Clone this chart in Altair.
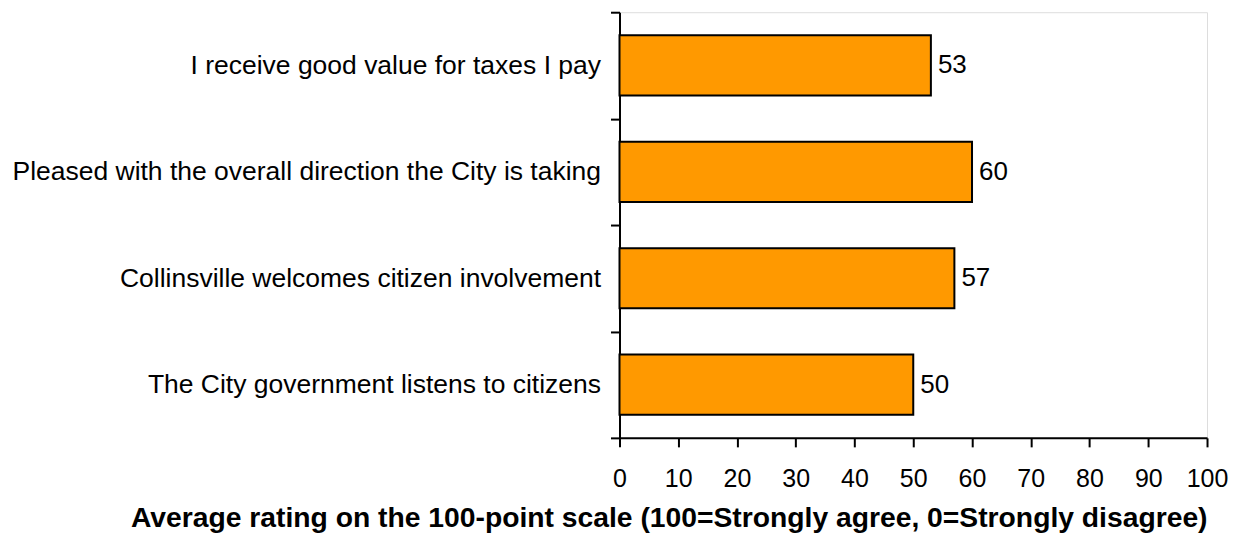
import altair as alt
import pandas as pd

categories = [
    "I receive good value for taxes I pay",
    "Pleased with the overall direction the City is taking",
    "Collinsville welcomes citizen involvement",
    "The City government listens to citizens",
]
values = [53, 60, 57, 50]

df = pd.DataFrame({"statement": categories, "rating": values})

FONT = "Liberation Sans"

y_enc = alt.Y(
    "statement:N",
    sort=categories,
    title=None,
    scale=alt.Scale(paddingInner=0, paddingOuter=0),
    axis=alt.Axis(
        tickBand="extent",
        labelFontSize=26.5,
        labelFont=FONT,
        labelColor="#000000",
        labelPadding=10,
        tickSize=9,
        tickColor="#000000",
        tickWidth=2,
        domainColor="#000000",
        domainWidth=2,
        labelLimit=800,
    ),
)

x_enc = alt.X(
    "rating:Q",
    scale=alt.Scale(domain=[0, 100], nice=False),
    title="Average rating on the 100-point scale (100=Strongly agree, 0=Strongly disagree)",
    axis=alt.Axis(
        values=list(range(0, 101, 10)),
        grid=False,
        labelFontSize=25,
        labelFont=FONT,
        labelColor="#000000",
        labelPadding=20,
        labelFlush=False,
        labelOverlap=False,
        tickSize=9,
        tickColor="#000000",
        tickWidth=2,
        domainColor="#000000",
        domainWidth=2,
        titleFont=FONT,
        titleFontSize=28.3,
        titleFontWeight="bold",
        titleColor="#000000",
        titleAnchor="end",
        titlePadding=13,
    ),
)

bars = alt.Chart(df).mark_bar(
    color="#FF9900",
    stroke="#000000",
    strokeWidth=2,
    height=alt.RelativeBandSize(0.565),
).encode(x=x_enc, y=y_enc)

labels = alt.Chart(df).mark_text(
    align="left", baseline="middle", dx=7, fontSize=26, font=FONT, color="#000000"
).encode(
    x=alt.X("rating:Q"),
    y=alt.Y("statement:N", sort=categories),
    text=alt.Text("rating:Q"),
)

chart = (
    alt.layer(bars, labels)
    .properties(
        width=588,
        height=426,
        autosize=alt.AutoSizeParams(type="none"),
        padding={"left": 612, "top": 4, "right": 24, "bottom": 100},
    )
    .configure_view(stroke=None)
    .configure(background="#ffffff")
)

chart.save("out.html", embed_options={"renderer": "svg", "actions": False})
